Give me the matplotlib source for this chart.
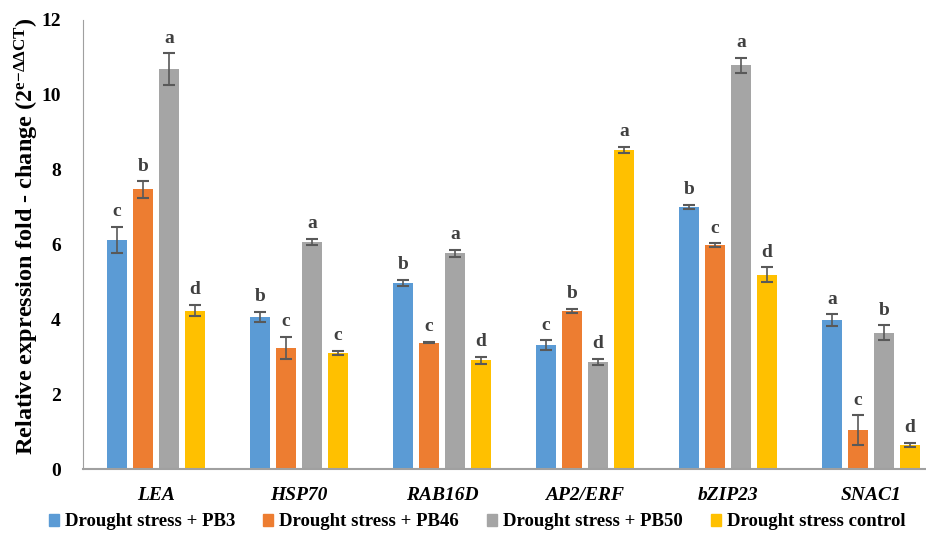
import numpy as np
import matplotlib
matplotlib.use("Agg")
import matplotlib.pyplot as plt
from matplotlib.patches import Patch

plt.rcParams['font.family'] = ['Liberation Serif', 'DejaVu Serif']
plt.rcParams['mathtext.fontset'] = 'custom'
plt.rcParams['mathtext.rm'] = 'Liberation Serif'
plt.rcParams['mathtext.bf'] = 'Liberation Serif:bold'
plt.rcParams['mathtext.it'] = 'Liberation Serif:italic'

# data
genes = ['LEA', 'HSP70', 'RAB16D', 'AP2/ERF', 'bZIP23', 'SNAC1']
series = ['Drought stress + PB3', 'Drought stress + PB46',
          'Drought stress + PB50', 'Drought stress control']
pb3 = [6.12, 4.06, 4.97, 3.31, 7.00, 3.98]
pb46 = [7.47, 3.24, 3.38, 4.23, 5.98, 1.03]
pb50 = [10.69, 6.07, 5.76, 2.86, 10.79, 3.64]
ctrl = [4.23, 3.10, 2.90, 8.53, 5.19, 0.64]
pb3_err = [0.35, 0.13, 0.08, 0.13, 0.05, 0.15]
pb46_err = [0.22, 0.30, 0.02, 0.05, 0.05, 0.40]
pb50_err = [0.42, 0.08, 0.10, 0.08, 0.20, 0.20]
ctrl_err = [0.15, 0.05, 0.10, 0.08, 0.20, 0.05]
pb3_let = ['c', 'b', 'b', 'c', 'b', 'a']
pb46_let = ['b', 'c', 'c', 'b', 'c', 'c']
pb50_let = ['a', 'a', 'a', 'd', 'a', 'b']
ctrl_let = ['d', 'c', 'd', 'a', 'd', 'd']

colors = ['#5B9BD5', '#ED7D31', '#A5A5A5', '#FFC000']
values = [pb3, pb46, pb50, ctrl]
errors = [pb3_err, pb46_err, pb50_err, ctrl_err]
letters = [pb3_let, pb46_let, pb50_let, ctrl_let]

fig = plt.figure(figsize=(9.26, 5.5), dpi=100)
ax = fig.add_axes([83 / 926, 81 / 550, 1 - 83 / 926, 449 / 550])

x = np.arange(len(genes))
step = 0.182
width = 0.14
for i in range(4):
    pos = x + (i - 1.5) * step
    ax.bar(pos, values[i], width, color=colors[i], label=series[i], zorder=2)
    ax.errorbar(pos, values[i], yerr=errors[i], fmt='none', ecolor='#595959',
                elinewidth=1.2, capsize=4, capthick=1.5, zorder=3)
    for p, v, e, l in zip(pos, values[i], errors[i], letters[i]):
        ax.text(p, v + e + 0.18, l, ha='center', va='bottom', fontsize=14,
                fontweight='bold', color='#404040')

ax.set_xlim(-0.51, 5.385)
ax.set_ylim(0, 12)
ax.set_yticks(range(0, 13, 2))
ax.set_xticks(x)
ax.set_xticklabels(genes, fontsize=14, fontweight='bold', fontstyle='italic')
ax.tick_params(axis='y', labelsize=14, length=0, pad=16)
ax.tick_params(axis='x', length=0, pad=13)
for lab in ax.get_yticklabels():
    lab.set_fontweight('bold')
for s in ['top', 'right']:
    ax.spines[s].set_visible(False)
ax.spines['left'].set_color('#A0A0A0')
ax.spines['bottom'].set_color('#A0A0A0')
ax.spines['bottom'].set_linewidth(1.5)

fig.text(27 / 926, 0.57,
         r'Relative expression fold - change (2$^{\mathbf{e{-}\Delta\Delta CT}}$)',
         rotation=90, ha='center', va='center', fontsize=17.5, fontweight='bold')

handles = [Patch(color=c) for c in colors]
fig.legend(handles, series, loc='center', bbox_to_anchor=(0.515, 1 - 522 / 550),
           ncol=4, frameon=False, prop={'weight': 'bold', 'size': 13.5},
           handlelength=0.55, handleheight=0.55, handletextpad=0.3, columnspacing=1.5)

fig.savefig('out.png', dpi=100)
